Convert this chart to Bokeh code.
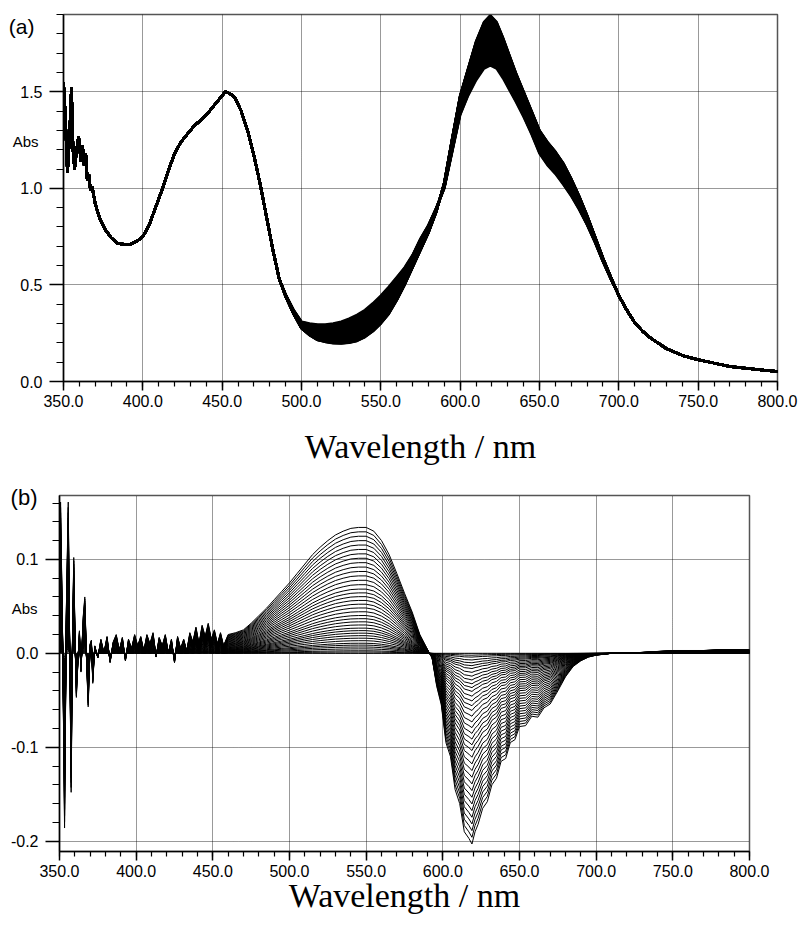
from bokeh.plotting import figure
from bokeh.models import (FixedTicker, NumeralTickFormatter, Range1d, ColumnDataSource, LinearAxis)
from bokeh.embed import file_html
from bokeh.resources import INLINE

# ---------------- data: panel (a) absorbance spectra ----------------
wl_a = [350, 351, 352.5, 354, 355, 356, 357, 358, 359.5, 361, 362, 363, 364, 365, 366, 367, 368,
        370, 373, 376, 380, 384, 388, 392, 396, 400, 404, 408, 412, 416, 420, 424, 428, 432, 436,
        440, 444, 448, 452, 455, 458, 462, 466, 470, 474, 478, 482, 486, 490, 495, 500, 505, 510,
        515, 520, 525, 530, 535, 540, 545, 550, 555, 560, 565, 570, 575, 580, 585, 590, 595, 600,
        605, 610, 615, 619, 623, 627, 631, 635, 640, 645, 650, 655, 660, 665, 670, 675, 680, 685,
        690, 695, 700, 705, 710, 715, 720, 730, 740, 750, 760, 770, 780, 790, 800]
abs_first = [1.55, 1.40, 1.08, 1.30, 1.52, 1.20, 1.10, 1.18, 1.27, 1.14, 1.22, 1.12, 1.18, 1.04, 1.07, 0.99, 1.01,
             0.92, 0.84, 0.79, 0.745, 0.715, 0.71, 0.71, 0.725, 0.75, 0.81, 0.90, 0.99, 1.09, 1.18, 1.24, 1.28, 1.32, 1.35,
             1.38, 1.42, 1.46, 1.50, 1.49, 1.47, 1.40, 1.30, 1.17, 1.02, 0.85, 0.68, 0.53, 0.44, 0.35, 0.275, 0.24, 0.215,
             0.205, 0.198, 0.197, 0.20, 0.21, 0.23, 0.26, 0.30, 0.35, 0.42, 0.50, 0.59, 0.68, 0.77, 0.88, 1.03, 1.26, 1.48,
             1.62, 1.76, 1.86, 1.895, 1.86, 1.78, 1.69, 1.60, 1.50, 1.40, 1.30, 1.24, 1.19, 1.13, 1.05, 0.96, 0.86, 0.75,
             0.64, 0.54, 0.445, 0.37, 0.305, 0.26, 0.225, 0.17, 0.135, 0.113, 0.095, 0.078, 0.068, 0.06, 0.052]
abs_last = [1.55, 1.40, 1.08, 1.30, 1.52, 1.20, 1.10, 1.18, 1.27, 1.14, 1.22, 1.12, 1.18, 1.04, 1.07, 0.99, 1.01,
            0.92, 0.84, 0.79, 0.745, 0.715, 0.71, 0.71, 0.725, 0.75, 0.81, 0.90, 0.99, 1.09, 1.18, 1.24, 1.28, 1.32, 1.35,
            1.38, 1.42, 1.46, 1.50, 1.49, 1.47, 1.40, 1.30, 1.17, 1.02, 0.85, 0.68, 0.53, 0.45, 0.37, 0.31, 0.30, 0.295,
            0.295, 0.30, 0.31, 0.325, 0.345, 0.37, 0.405, 0.445, 0.49, 0.54, 0.59, 0.655, 0.74, 0.81, 0.90, 1.00, 1.19, 1.38,
            1.48, 1.56, 1.62, 1.636, 1.62, 1.57, 1.51, 1.45, 1.37, 1.28, 1.18, 1.12, 1.075, 1.02, 0.96, 0.89, 0.81, 0.72,
            0.62, 0.53, 0.445, 0.37, 0.305, 0.26, 0.225, 0.17, 0.135, 0.113, 0.095, 0.078, 0.068, 0.06, 0.052]

# ---------------- data: panel (b) difference spectra (largest change) ----------------
wl_b = [350, 350.7, 352, 353.3, 354.5, 355.7, 356.7, 357.6, 358.5, 359.3, 360.2, 361, 362, 363, 364, 365.5,
        366.5, 367.5, 368.7, 370, 370.8, 371.7, 373, 375, 377, 379, 381, 383, 385, 387, 389, 391, 393, 395,
        397, 399, 401, 403, 405, 407, 409, 411, 413, 415, 417, 419, 421, 423, 425, 427, 429, 431, 433, 435,
        437, 439, 441, 443, 445, 447, 449, 451, 453, 455, 457, 460, 465, 470, 475, 480, 485, 490, 495, 500,
        505, 510, 515, 520, 525, 530, 535, 540, 545, 550, 555, 560, 565, 570, 575, 580, 585, 590, 593, 596,
        599, 602, 605, 608, 611, 614, 617, 619, 621, 623, 626, 629, 632, 635, 638, 641, 644, 647, 650, 654,
        658, 662, 666, 670, 675, 680, 685, 690, 695, 700, 710, 720, 730, 740, 750, 760, 770, 780, 790, 800]
diff_max = [0.0, 0.161, 0.02, -0.186, 0.05, 0.161, 0.0, -0.148, 0.02, 0.102, 0.01, -0.047, -0.01, 0.024, -0.02, 0.04,
            0.06, 0.0, -0.057, 0.01, 0.014, -0.032, 0.008, -0.005, 0.015, 0.0, 0.018, -0.01, 0.012, 0.02, 0.003, 0.017, -0.008, 0.015,
            0.005, 0.02, 0.008, 0.018, 0.002, 0.02, 0.01, 0.022, -0.004, 0.017, 0.008, 0.02, 0.0, 0.015, -0.01, 0.018, 0.005, 0.015, 0.002, 0.022,
            0.012, 0.028, 0.01, 0.03, 0.018, 0.032, 0.015, 0.025, 0.01, 0.022, 0.008, 0.02, 0.022, 0.025, 0.032, 0.04, 0.048, 0.057, 0.066, 0.075,
            0.085, 0.095, 0.105, 0.113, 0.12, 0.126, 0.13, 0.133, 0.134, 0.134, 0.13, 0.12, 0.105, 0.085, 0.064, 0.044, 0.02, 0.004, -0.005, -0.035,
            -0.055, -0.095, -0.11, -0.145, -0.16, -0.19, -0.197, -0.203, -0.19, -0.182, -0.165, -0.158, -0.14, -0.133, -0.115, -0.112, -0.095, -0.092, -0.078, -0.077,
            -0.067, -0.068, -0.058, -0.054, -0.04, -0.025, -0.014, -0.008, -0.004, -0.002, 0.0, 0.0, 0.001, 0.002, 0.003, 0.003, 0.003, 0.004, 0.004, 0.004]

# fraction of the full change reached at each recorded scan
scan_fraction = [0.0, 0.01, 0.02, 0.035, 0.05, 0.065, 0.08, 0.1, 0.12, 0.14, 0.16, 0.18, 0.2, 0.225, 0.25,
                 0.275, 0.3, 0.33, 0.36, 0.39, 0.42, 0.45, 0.48, 0.51, 0.545, 0.58, 0.615, 0.65, 0.685,
                 0.72, 0.755, 0.79, 0.825, 0.86, 0.895, 0.93, 0.965, 1.0]

# ticks
x_ticks = [350, 400, 450, 500, 550, 600, 650, 700, 750, 800]
x_minor = [350, 360, 370, 380, 390, 400, 410, 420, 430, 440, 450, 460, 470, 480, 490, 500, 510, 520, 530, 540,
           550, 560, 570, 580, 590, 600, 610, 620, 630, 640, 650, 660, 670, 680, 690, 700, 710, 720, 730, 740,
           750, 760, 770, 780, 790, 800]
ya_ticks = [0.0, 0.5, 1.0, 1.5]
ya_minor = [0.0, 0.1, 0.2, 0.3, 0.4, 0.5, 0.6, 0.7, 0.8, 0.9, 1.0, 1.1, 1.2, 1.3, 1.4, 1.5, 1.6, 1.7, 1.8, 1.9]
yb_ticks = [-0.2, -0.1, 0.0, 0.1]
yb_minor = [-0.2, -0.18, -0.16, -0.14, -0.12, -0.1, -0.08, -0.06, -0.04, -0.02, 0.0, 0.02, 0.04, 0.06,
            0.08, 0.1, 0.12, 0.14, 0.16]

SANS = "Liberation Sans"
SERIF = "Liberation Serif"

xs_a, ys_a = [], []
for f in scan_fraction:
    xs_a.append(wl_a)
    ys_a.append([a0 + f * (a1 - a0) for a0, a1 in zip(abs_first, abs_last)])
xs_b, ys_b = [], []
for f in scan_fraction:
    xs_b.append(wl_b)
    ys_b.append([f * d for d in diff_max])


def side_text(p, y, text, size, standoff):
    ax = LinearAxis(ticker=FixedTicker(ticks=[y]), major_label_overrides={y: text},
                    axis_line_color=None, major_tick_line_color=None, minor_tick_line_color=None,
                    major_tick_out=0, minor_tick_out=0, major_tick_in=0, minor_tick_in=0,
                    major_label_standoff=standoff, major_label_text_font=SANS,
                    major_label_text_font_size=size, major_label_text_color="black")
    p.add_layout(ax, "left")


def style(p, yticks, yminor, title_standoff):
    p.xaxis.ticker = FixedTicker(ticks=x_ticks, minor_ticks=x_minor)
    p.yaxis.ticker = FixedTicker(ticks=yticks, minor_ticks=yminor)
    p.xaxis.formatter = NumeralTickFormatter(format="0.0")
    p.yaxis.formatter = NumeralTickFormatter(format="0.0")
    for ax in (p.xaxis, p.yaxis):
        ax.axis_line_width = 1.5
        ax.axis_line_color = "black"
        ax.major_tick_line_width = 1.5
        ax.minor_tick_line_width = 1.2
        ax.major_tick_line_color = "black"
        ax.minor_tick_line_color = "black"
        ax.major_tick_in = 0
        ax.minor_tick_in = 0
        ax.major_label_text_font = SANS
        ax.major_label_text_font_size = "16px"
        ax.major_label_text_color = "black"
    p.yaxis.major_tick_out = 14
    p.yaxis.minor_tick_out = 7
    p.yaxis.major_label_standoff = 7
    p.xaxis.major_tick_out = 9
    p.xaxis.minor_tick_out = 5
    p.xaxis.major_label_standoff = 4
    p.xaxis.axis_label = "Wavelength / nm"
    p.xaxis.axis_label_text_font = SERIF
    p.xaxis.axis_label_text_font_style = "normal"
    p.xaxis.axis_label_text_font_size = "34px"
    p.xaxis.axis_label_text_color = "black"
    p.xaxis.axis_label_standoff = title_standoff
    for g in (p.xgrid, p.ygrid):
        g.grid_line_color = "black"
        g.grid_line_alpha = 0.8
        g.grid_line_dash = "1 1"
        g.grid_line_width = 1
    p.outline_line_color = "#555555"
    p.outline_line_width = 1.5
    p.background_fill_color = "white"
    p.border_fill_color = "white"


pa = figure(width=800, height=470, output_backend="svg", toolbar_location=None,
            x_range=Range1d(350, 800), y_range=Range1d(0, 1.9),
            min_border_left=63, min_border_right=23, min_border_top=14, min_border_bottom=89)
pa.multi_line(xs="xs", ys="ys", source=ColumnDataSource(dict(xs=xs_a, ys=ys_a)),
              line_color="black", line_width=2.5)
style(pa, ya_ticks, ya_minor, 18)
side_text(pa, 1.245, "Abs", "15px", -21)
side_text(pa, 1.84, "(a)", "21px", -25)

pb = figure(width=800, height=470, output_backend="svg", toolbar_location=None,
            x_range=Range1d(350, 800), y_range=Range1d(-0.211, 0.168),
            min_border_left=59, min_border_right=51, min_border_top=25, min_border_bottom=89)
pb.multi_line(xs="xs", ys="ys", source=ColumnDataSource(dict(xs=xs_b, ys=ys_b)),
              line_color="black", line_width=1.0)
style(pb, yb_ticks, yb_minor, -3)
side_text(pb, 0.048, "Abs", "15px", -30)
side_text(pb, 0.166, "(b)", "22px", -30)

open("out.html", "w").write(file_html([pa, pb], INLINE))
